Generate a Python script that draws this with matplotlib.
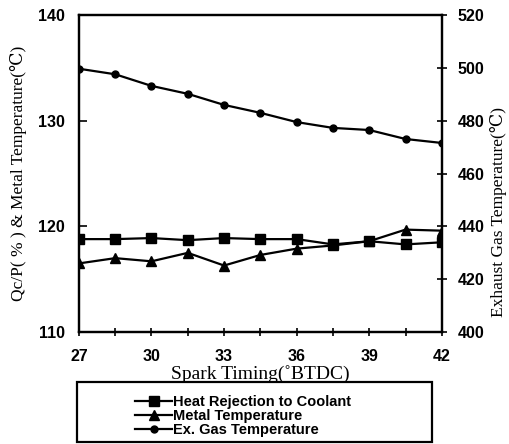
import matplotlib.pyplot as plt
from matplotlib.patches import Rectangle
from matplotlib.ticker import MultipleLocator

# spark timing sweep (deg BTDC)
spark_timing = [27, 28.5, 30, 31.5, 33, 34.5, 36, 37.5, 39, 40.5, 42]
# heat rejection to coolant, Qc/P (%)
heat_rejection = [118.8, 118.8, 118.9, 118.7, 118.9, 118.8, 118.8, 118.3, 118.6, 118.3, 118.5]
# metal temperature (left axis scale)
metal_temp = [116.5, 117.0, 116.7, 117.5, 116.3, 117.3, 117.9, 118.2, 118.6, 119.7, 119.6]
# exhaust gas temperature (deg C, right axis)
exhaust_temp = [499.7, 497.6, 493.2, 490.2, 486.0, 483.0, 479.5, 477.3, 476.5, 473.1, 471.6]

x_ticks = [27, 30, 33, 36, 39, 42]
left_ticks = [110, 120, 130, 140]
right_ticks = [400, 420, 440, 460, 480, 500, 520]

serif = ['Liberation Serif', 'DejaVu Serif', 'Noto Sans CJK JP']
sans = 'Liberation Sans'

fig = plt.figure(figsize=(5.09, 4.44), dpi=100)
ax = fig.add_axes([0.155, 0.252, 0.713, 0.714])
ax2 = ax.twinx()

l1, = ax.plot(spark_timing, heat_rejection, color='black', lw=1.6,
              marker='s', ms=6.5, label='Heat Rejection to Coolant')
l2, = ax.plot(spark_timing, metal_temp, color='black', lw=1.6,
              marker='^', ms=6.5, label='Metal Temperature')
l3, = ax2.plot(spark_timing, exhaust_temp, color='black', lw=1.6,
               marker='o', ms=5, label='Ex. Gas Temperature')

ax.set_xlim(27, 42)
ax.set_ylim(110, 140)
ax2.set_ylim(400, 520)
ax.set_xticks(x_ticks)
ax.xaxis.set_minor_locator(MultipleLocator(1.5))
ax.set_yticks(left_ticks)
ax2.set_yticks(right_ticks)

for a in (ax, ax2):
    for s in a.spines.values():
        s.set_linewidth(1.6)

ax.tick_params(axis='x', which='both', direction='inout', length=6, width=1.2, pad=9)
ax.tick_params(axis='y', direction='in', length=6, width=1.2, pad=10)
ax2.tick_params(axis='y', direction='inout', length=7, width=1.2, pad=8)
for lab in ax.get_xticklabels() + ax.get_yticklabels() + ax2.get_yticklabels():
    lab.set_family(sans)
    lab.set_fontweight('bold')
    lab.set_fontsize(11.5)

ax.set_xlabel('Spark Timing(˚BTDC)', family=serif, fontsize=14, labelpad=1)
ax.set_ylabel('Qc/P( % ) & Metal Temperature(℃)', family=serif, fontsize=12.5, labelpad=8)
ax2.set_ylabel('Exhaust Gas Temperature(℃)', family=serif, fontsize=12.5,
               rotation=90, va='center', ha='center')
ax2.yaxis.set_label_coords(1.155, 0.38)

# boxed legend under the plot
fig.add_artist(Rectangle((77 / 509, 2 / 444), 355 / 509, 60 / 444,
                         transform=fig.transFigure, fill=False,
                         edgecolor='black', lw=1.6))
leg = fig.legend(handles=[l1, l2, l3], loc='upper left',
                 bbox_to_anchor=(128 / 509, 1 - 388 / 444),
                 frameon=False, handlelength=2.5, handletextpad=0.1,
                 labelspacing=0.0, borderpad=0,
                 prop={'family': sans, 'weight': 'bold', 'size': 10.5})

fig.savefig('out.png', dpi=100)
